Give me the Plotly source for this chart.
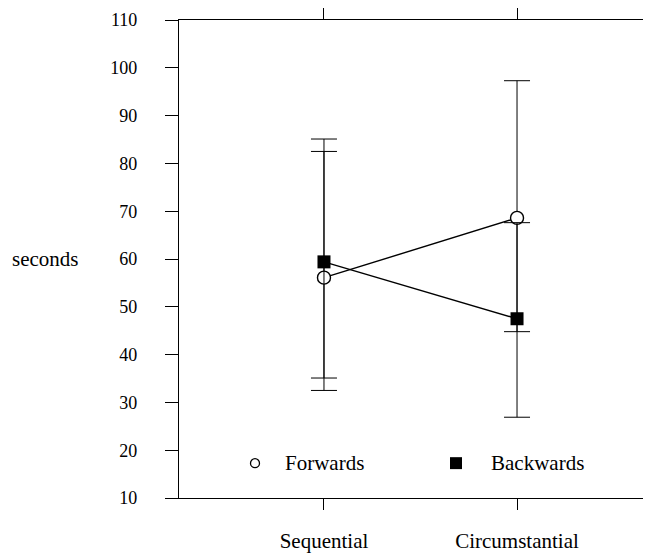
import plotly.graph_objects as go

categories = ["Sequential", "Circumstantial"]
fwd_mean = [56.1, 68.6]
fwd_upper = [82.5, 97.3]
fwd_lower = [32.5, 44.8]
bwd_mean = [59.4, 47.5]
bwd_upper = [85.1, 67.6]
bwd_lower = [35.1, 26.9]
y_ticks = [10, 20, 30, 40, 50, 60, 70, 80, 90, 100, 110]

# page body has an 8px default margin, so the figure is sized/offset for it
W, H = 643, 552
L, R, T, B = 171, 0, 10, 62
FONT = "Liberation Serif"
WORD = 21

def err(mean, up, lo):
    return dict(type="data", symmetric=False,
                array=[u - m for u, m in zip(up, mean)],
                arrayminus=[m - l for m, l in zip(mean, lo)],
                color="black", thickness=1, width=13)

fig = go.Figure()
fig.add_trace(go.Scatter(
    x=categories, y=fwd_mean, mode="lines+markers", name="Forwards",
    line=dict(color="black", width=1.4),
    marker=dict(symbol="circle", size=13, color="white",
                line=dict(color="black", width=1.4)),
    error_y=err(fwd_mean, fwd_upper, fwd_lower)))
fig.add_trace(go.Scatter(
    x=categories, y=bwd_mean, mode="lines+markers", name="Backwards",
    line=dict(color="black", width=1.4),
    marker=dict(symbol="square", size=13, color="black",
                line=dict(color="black", width=0)),
    error_y=err(bwd_mean, bwd_upper, bwd_lower)))

pw = W - L - R
ph = H - T - B
def px(x):
    return (x - 8 - L) / pw
def py(y):
    return (H - B - (y - 8)) / ph

# legend (drawn inside the plot area)
fig.add_shape(type="circle", xref="paper", yref="paper",
              x0=px(250.5), x1=px(259.5), y0=py(467.5), y1=py(458.5),
              line=dict(color="black", width=1.3), fillcolor="white")
fig.add_shape(type="rect", xref="paper", yref="paper",
              x0=px(450), x1=px(462), y0=py(469), y1=py(457),
              line=dict(width=0), fillcolor="black")
fig.add_annotation(text="Forwards", xref="paper", yref="paper",
                   x=px(283), y=py(463), xanchor="left", yanchor="middle",
                   showarrow=False, font=dict(family=FONT, size=WORD, color="black"))
fig.add_annotation(text="Backwards", xref="paper", yref="paper",
                   x=px(489), y=py(463), xanchor="left", yanchor="middle",
                   showarrow=False, font=dict(family=FONT, size=WORD, color="black"))
fig.add_annotation(text="seconds", xref="paper", yref="paper",
                   x=px(81), y=0.5, xanchor="right", yanchor="middle",
                   showarrow=False, font=dict(family=FONT, size=WORD, color="black"))

fig.update_layout(
    width=W, height=H,
    margin=dict(l=L, r=R, t=T, b=B),
    paper_bgcolor="white", plot_bgcolor="white",
    showlegend=False,
    font=dict(family=FONT, size=18, color="black"),
    xaxis=dict(type="category", range=[-0.751, 1.694],
               showline=True, linecolor="black", linewidth=1.2, mirror="ticks",
               ticks="outside", ticklen=11, tickcolor="black", tickwidth=1,
               showgrid=False, zeroline=False, ticklabelstandoff=13,
               tickfont=dict(family=FONT, size=WORD, color="black")),
    yaxis=dict(range=[10, 110], tickvals=y_ticks,
               showline=True, linecolor="black", linewidth=1.2,
               ticks="outside", ticklen=13, tickcolor="black", tickwidth=1,
               showgrid=False, zeroline=False, ticklabelstandoff=24),
)

fig.write_html("out.html")
